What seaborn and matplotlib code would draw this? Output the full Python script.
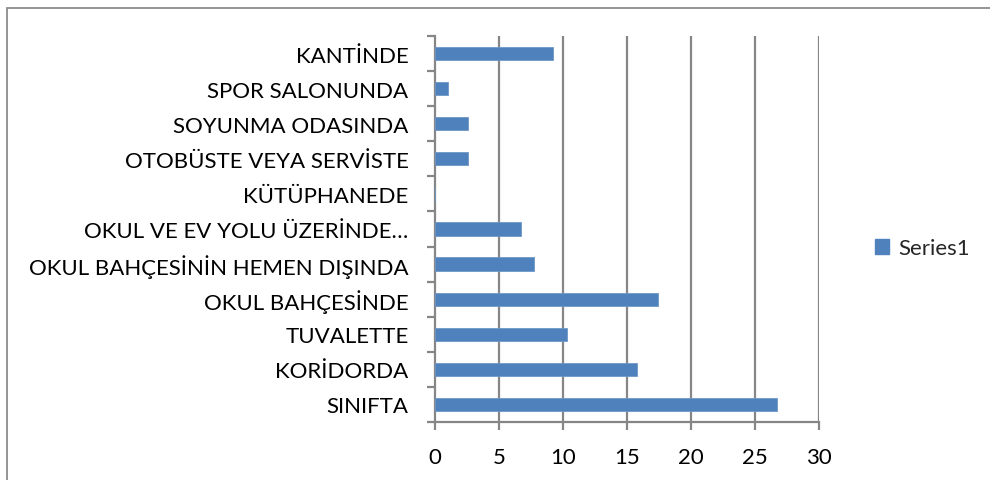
import matplotlib
matplotlib.use("Agg")
import matplotlib.pyplot as plt
from matplotlib.patches import Patch, Rectangle
from matplotlib.ticker import FixedLocator
import numpy as np
import seaborn as sns

# data, top to bottom
categories = ["KANTİNDE", "SPOR SALONUNDA", "SOYUNMA ODASINDA", "OTOBÜSTE VEYA SERVİSTE",
              "KÜTÜPHANEDE", "OKUL VE EV YOLU ÜZERİNDE…", "OKUL BAHÇESİNİN HEMEN DIŞINDA",
              "OKUL BAHÇESİNDE", "TUVALETTE", "KORİDORDA", "SINIFTA"]
values = [9.2, 1.0, 2.6, 2.6, 0.0, 6.7, 7.7, 17.4, 10.3, 15.8, 26.7]
x_ticks = [0, 5, 10, 15, 20, 25, 30]
series_name = "Series1"

bar_color = "#4F81BD"
grid_color = "#868686"

sns.set_style("white")
plt.rcParams["font.family"] = ["Lato", "DejaVu Sans"]

fig = plt.figure(figsize=(9.9, 4.81), dpi=100)
ax = fig.add_axes([435 / 990, 1 - 423 / 481, 384 / 990, 386 / 481])

sns.barplot(x=values, y=categories, orient="h", color=bar_color, saturation=1,
            width=0.38, edgecolor="#6E97C8", linewidth=0.6, ax=ax, zorder=3)

ax.set_xlim(0, 30)
ax.set_ylim(len(categories) - 0.5, -0.5)
ax.set_xticks(x_ticks)
ax.set_xticklabels([str(t) for t in x_ticks])
ax.set_xlabel("")
ax.set_ylabel("")

# vertical gridlines
for t in x_ticks[1:]:
    ax.axvline(t, color=grid_color, lw=1.6, zorder=1)

for side in ["top", "right"]:
    ax.spines[side].set_visible(False)
for side in ["left", "bottom"]:
    ax.spines[side].set_color(grid_color)
    ax.spines[side].set_linewidth(1.6)

# category ticks sit between the bars
ax.yaxis.set_minor_locator(FixedLocator(np.arange(-0.5, len(categories), 1)))
ax.tick_params(axis="y", which="major", length=0, pad=19, labelsize=16, colors="black")
ax.tick_params(axis="y", which="minor", length=6, width=1.6, color=grid_color, left=True)
ax.tick_params(axis="x", which="major", length=6, width=1.6, color=grid_color,
               pad=12, labelsize=16, labelcolor="black", bottom=True)

fig.legend(handles=[Patch(facecolor=bar_color, edgecolor=bar_color)], labels=[series_name],
           loc="center left", bbox_to_anchor=(855 / 990, 1 - 249 / 481), frameon=False,
           fontsize=16, handlelength=0.65, handleheight=0.65, handletextpad=0.4)

# chart area border (only top and left visible in the crop)
fig.patches.append(Rectangle((7 / 990, -0.2), 1.2, 1.2 - 9 / 481, transform=fig.transFigure,
                             fill=False, edgecolor="#8c8c8c", lw=1.3))

fig.savefig("out.png", dpi=100)
